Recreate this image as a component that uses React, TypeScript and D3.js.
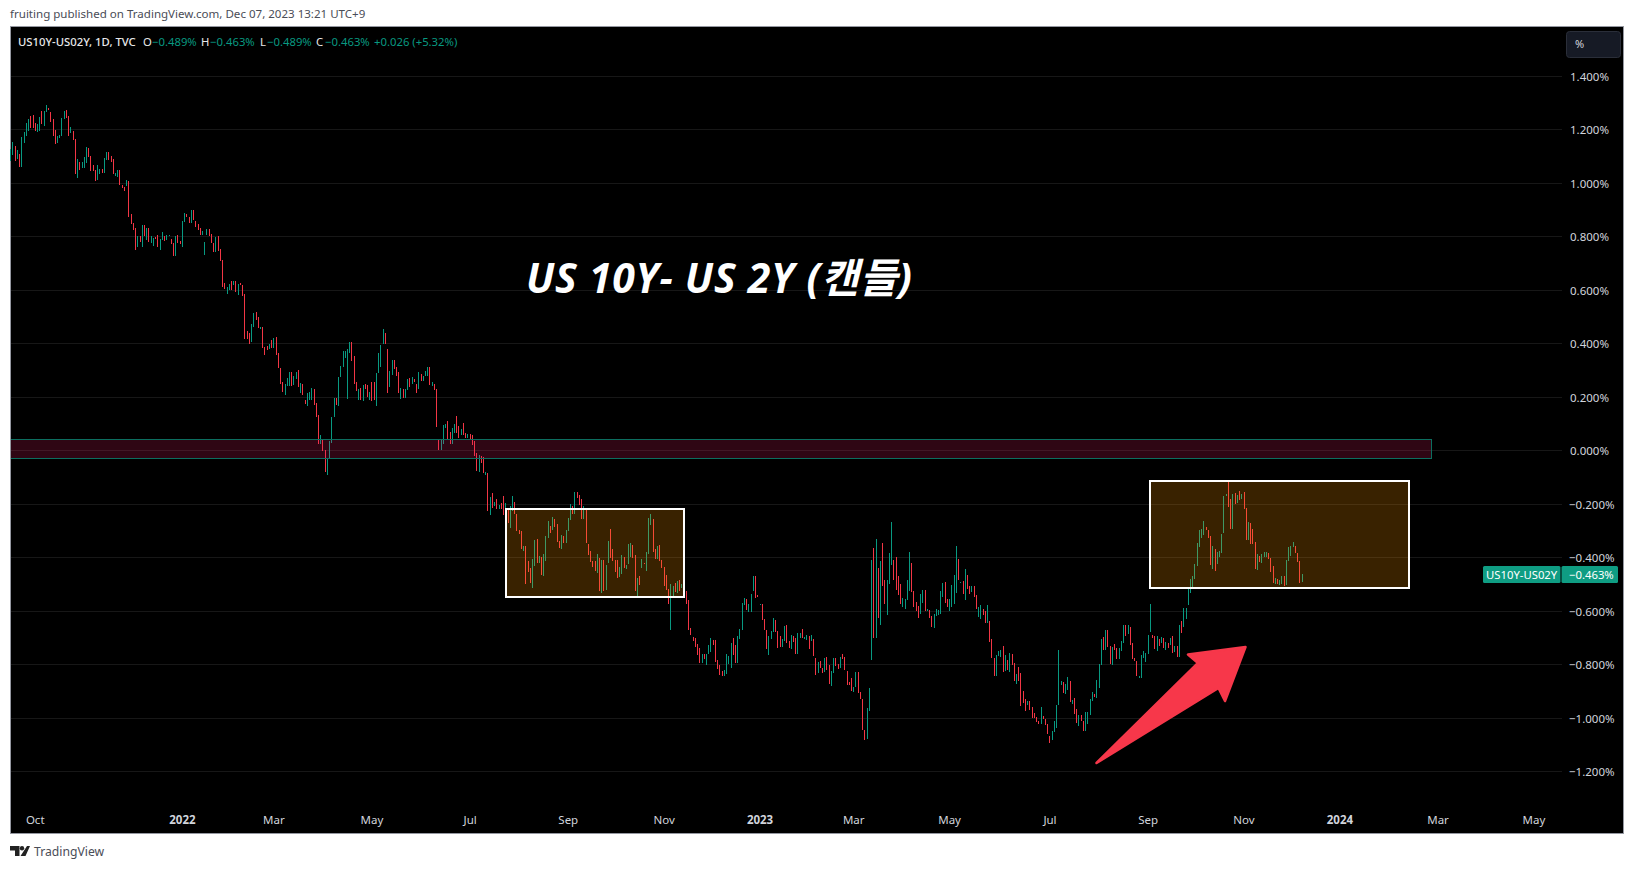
import React from "react";
import * as d3 from "d3";

// Daily bar ranges of the spread, in percent (oldest first).
const highs: number[] = [
1.127,1.154,1.140,1.125,1.110,1.173,1.192,1.227,1.240,1.252,
1.255,1.226,1.222,1.248,1.270,1.270,1.292,1.281,1.266,1.240,
1.199,1.177,1.180,1.244,1.270,1.274,1.252,1.210,1.196,1.165,
1.091,1.080,1.080,1.098,1.136,1.132,1.102,1.068,1.050,1.068,
1.053,1.053,1.095,1.117,1.117,1.102,1.091,1.039,1.050,1.050,
.994,.986,1.012,1.009,.885,.851,.832,.802,.802,.844,
.844,.832,.832,.802,.795,.799,.806,.791,.817,.802,
.806,.806,.791,.776,.802,.806,.784,.858,.888,.885,
.874,.899,.899,.858,.847,.832,.821,.780,.829,.829,
.810,.776,.799,.802,.754,.713,.627,.612,.623,.634,
.634,.634,.623,.627,.619,.586,.447,.440,.473,.516,
.518,.500,.462,.462,.387,.391,.399,.414,.421,.425,
.365,.309,.256,.249,.271,.294,.294,.279,.294,.301,
.253,.249,.189,.215,.219,.234,.230,.178,.133,.058,
.039,.002,-.028,.036,.126,.197,.197,.275,.316,.372,
.372,.380,.406,.406,.354,.256,.230,.234,.245,.249,
.245,.219,.256,.256,.290,.365,.395,.455,.440,.380,
.298,.339,.339,.313,.294,.234,.230,.230,.268,.271,
.275,.268,.249,.294,.286,.279,.298,.313,.313,.256,
.249,.230,.039,.039,.096,.099,.111,.069,.084,.099,
.129,.092,.081,.103,.066,.062,.062,.058,.036,-.009,
-.017,-.020,-.024,-.080,-.084,-.174,-.159,-.192,-.181,-.204,
-.196,-.170,-.196,-.222,-.207,-.170,-.192,-.237,-.297,-.301,
-.357,-.357,-.413,-.439,-.405,-.335,-.331,-.394,-.398,-.387,
-.320,-.263,-.282,-.249,-.256,-.275,-.338,-.316,-.320,-.297,
-.252,-.200,-.207,-.155,-.155,-.166,-.181,-.207,-.215,-.349,
-.376,-.413,-.413,-.387,-.402,-.409,-.409,-.428,-.338,-.293,
-.368,-.409,-.409,-.435,-.391,-.398,-.428,-.349,-.346,-.353,
-.391,-.477,-.469,-.405,-.420,-.379,-.252,-.237,-.256,-.368,
-.357,-.353,-.409,-.435,-.465,-.518,-.499,-.506,-.495,-.488,
-.484,-.499,-.510,-.525,-.559,-.664,-.697,-.701,-.724,-.739,
-.761,-.761,-.761,-.727,-.701,-.709,-.709,-.783,-.802,-.825,
-.821,-.761,-.768,-.720,-.701,-.727,-.694,-.667,-.570,-.551,
-.555,-.574,-.537,-.469,-.469,-.540,-.574,-.574,-.630,-.671,
-.693,-.675,-.626,-.634,-.675,-.693,-.705,-.656,-.652,-.712,
-.690,-.693,-.701,-.682,-.682,-.667,-.697,-.690,-.693,-.690,
-.705,-.776,-.791,-.787,-.813,-.776,-.772,-.802,-.824,-.776,
-.776,-.798,-.772,-.761,-.772,-.824,-.865,-.851,-.884,-.828,
-.828,-.903,-.929,-1.045,-.963,-.888,-.409,-.364,-.331,-.439,
-.413,-.346,-.484,-.484,-.383,-.267,-.409,-.398,-.469,-.499,
-.551,-.555,-.484,-.379,-.420,-.525,-.566,-.581,-.536,-.521,
-.521,-.592,-.596,-.619,-.611,-.592,-.596,-.525,-.495,-.491,
-.555,-.555,-.503,-.465,-.357,-.405,-.491,-.488,-.443,-.465,
-.506,-.506,-.506,-.540,-.585,-.578,-.592,-.600,-.578,-.637,
-.705,-.776,-.764,-.749,-.746,-.731,-.764,-.783,-.757,-.761,
-.794,-.836,-.809,-.832,-.899,-.929,-.937,-.937,-.959,-.981,
-.996,-1.011,-.959,-.993,-1.004,-1.023,-1.068,-1.049,-1.011,-.952,
-.746,-.862,-.865,-.873,-.847,-.862,-.933,-.925,-.966,-.989,
-.989,-1.011,-.978,-.978,-.929,-.903,-.910,-.858,-.798,-.705,
-.697,-.671,-.671,-.731,-.735,-.724,-.738,-.738,-.712,-.652,
-.652,-.652,-.660,-.720,-.776,-.787,-.843,-.765,-.750,-.757,
-.690,-.574,-.690,-.694,-.694,-.705,-.697,-.701,-.716,-.720,
-.701,-.694,-.731,-.731,-.652,-.638,-.589,-.589,-.514,-.478,
-.469,-.422,-.347,-.295,-.291,-.263,-.285,-.297,-.320,-.357,
-.369,-.378,-.374,-.310,-.169,-.160,-.114,-.179,-.160,-.157,
-.166,-.151,-.160,-.156,-.214,-.267,-.270,-.293,-.343,-.387,
-.393,-.387,-.377,-.378,-.381,-.403,-.432,-.477,-.480,-.482,
-.469,-.469,-.409,-.359,-.357,-.342,-.357,-.381,-.413,-.460,
];

const lows: number[] = [
1.083,1.106,1.083,1.091,1.061,1.061,1.151,1.177,1.196,1.207,
1.207,1.196,1.192,1.196,1.222,1.214,1.266,1.274,1.229,1.177,
1.147,1.151,1.169,1.177,1.240,1.244,1.177,1.188,1.162,1.035,
1.020,1.050,1.057,1.057,1.076,1.098,1.046,1.046,1.009,1.012,
1.035,1.039,1.039,1.087,1.087,1.080,1.035,1.027,1.024,.994,
.982,.971,.990,.874,.847,.825,.750,.761,.780,.761,
.802,.788,.780,.776,.765,.791,.761,.750,.788,.784,
.788,.802,.772,.728,.728,.776,.772,.761,.855,.874,
.851,.851,.862,.836,.825,.806,.806,.731,.806,.802,
.776,.742,.742,.746,.708,.612,.604,.586,.601,.601,
.619,.593,.582,.619,.578,.417,.417,.399,.406,.462,
.488,.458,.455,.384,.357,.376,.380,.384,.384,.357,
.309,.249,.219,.208,.241,.241,.241,.245,.268,.238,
.215,.208,.174,.167,.189,.189,.170,.126,.025,.025,
-.002,-.080,-.091,-.028,.028,.126,.170,.167,.275,.313,
.346,.193,.365,.335,.249,.223,.189,.189,.185,.230,
.200,.189,.185,.189,.167,.290,.313,.399,.399,.215,
.238,.283,.305,.279,.215,.193,.197,.197,.227,.238,
.249,.256,.215,.230,.260,.260,.279,.279,.245,.241,
.227,.088,.002,.002,.025,.084,.043,.025,.025,.066,
.066,.047,.058,.058,.047,.047,.039,.021,-.020,-.076,
-.080,-.046,-.084,-.091,-.226,-.241,-.215,-.207,-.219,-.219,
-.219,-.241,-.230,-.271,-.290,-.226,-.237,-.301,-.312,-.368,
-.376,-.499,-.454,-.495,-.514,-.432,-.420,-.420,-.465,-.469,
-.413,-.327,-.308,-.297,-.286,-.342,-.364,-.368,-.346,-.346,
-.301,-.260,-.237,-.237,-.177,-.204,-.256,-.256,-.346,-.391,
-.417,-.435,-.450,-.458,-.525,-.533,-.525,-.521,-.420,-.402,
-.413,-.454,-.477,-.473,-.462,-.439,-.443,-.424,-.398,-.402,
-.525,-.548,-.503,-.439,-.424,-.450,-.387,-.278,-.379,-.405,
-.405,-.413,-.439,-.506,-.521,-.574,-.671,-.548,-.529,-.533,
-.525,-.514,-.540,-.574,-.671,-.690,-.712,-.735,-.765,-.795,
-.795,-.780,-.802,-.761,-.754,-.727,-.791,-.817,-.839,-.843,
-.843,-.836,-.798,-.813,-.765,-.795,-.795,-.705,-.671,-.578,
-.596,-.604,-.604,-.525,-.551,-.548,-.578,-.634,-.671,-.742,
-.764,-.705,-.678,-.678,-.738,-.735,-.735,-.712,-.720,-.738,
-.742,-.716,-.761,-.761,-.701,-.701,-.705,-.708,-.742,-.712,
-.768,-.839,-.832,-.813,-.832,-.828,-.821,-.873,-.880,-.832,
-.806,-.817,-.813,-.780,-.821,-.877,-.877,-.899,-.903,-.884,
-.907,-.929,-1.045,-1.083,-1.079,-.974,-.783,-.701,-.701,-.626,
-.652,-.506,-.574,-.615,-.499,-.428,-.484,-.521,-.540,-.574,
-.585,-.592,-.559,-.525,-.529,-.585,-.600,-.626,-.611,-.570,
-.600,-.600,-.626,-.660,-.664,-.619,-.615,-.611,-.548,-.570,
-.585,-.600,-.585,-.574,-.533,-.484,-.495,-.536,-.559,-.518,
-.536,-.529,-.548,-.592,-.622,-.630,-.615,-.645,-.645,-.716,
-.776,-.843,-.843,-.768,-.772,-.828,-.824,-.821,-.828,-.802,
-.862,-.873,-.862,-.955,-.944,-.974,-.952,-.970,-1.000,-1.000,
-1.015,-1.023,-1.023,-1.004,-1.026,-1.060,-1.094,-1.083,-1.053,-1.038,
-.952,-.877,-.907,-.910,-.895,-.940,-.948,-.985,-1.019,-1.030,
-1.011,-1.049,-1.049,-1.023,-.989,-.937,-.922,-.925,-.888,-.800,
-.746,-.746,-.735,-.798,-.802,-.746,-.780,-.780,-.750,-.720,
-.694,-.686,-.727,-.780,-.787,-.843,-.851,-.851,-.776,-.791,
-.761,-.679,-.701,-.742,-.750,-.731,-.720,-.738,-.746,-.738,
-.727,-.757,-.753,-.772,-.772,-.682,-.660,-.630,-.578,-.532,
-.509,-.479,-.432,-.362,-.326,-.315,-.297,-.325,-.428,-.444,
-.449,-.424,-.397,-.382,-.307,-.170,-.210,-.291,-.291,-.200,
-.197,-.185,-.182,-.217,-.334,-.334,-.349,-.349,-.443,-.447,
-.417,-.419,-.397,-.399,-.404,-.455,-.494,-.499,-.499,-.502,
-.499,-.507,-.503,-.414,-.394,-.362,-.381,-.417,-.493,-.492,
];

// G = closed up, R = closed down
const directions: string =
  "GGRGRGGGGR" + "RRGGRGGRRR" + "RGGGGRRGRR" + "GRGGGRRRRG" + "GRGGRRRGGR" +
  "RRGRRRRGRG" + "RGRGGRRGGR" + "GGRRGRRGGR" + "RGRRRRGGGR" + "RRGRRRRGGR" +
  "GRGRRRRRGG" + "RRGRRRGRGR" + "RRRGGGRGGR" + "GRRGGGRRRG" + "RRGGGGRGGG" +
  "GGGRRRGRGR" + "RGRRGGGGRR" + "GGRRRGRGGR" + "GRRGRGGGRG" + "RRRGGGRRGG" +
  "RRGRRGRRRR" + "GRRGRGRGRG" + "RRGRGGRRRR" + "GRRRGGRGRG" + "GGRGRRRGRG" +
  "GGRGRRRGRR" + "RRRGRGRGGR" + "RRRGGRGGGR" + "RGRGRGGGRR" + "GRRRRRGGRG" +
  "RGRRRRRRRR" + "GRGGGRRRRR" + "GGGGRRGGGG" + "RGGGRRGRRR" + "GGGRRRGGRR" +
  "GRRGGRGGRG" + "RRGRRGRRGG" + "RRGRRRRRGG" + "RRRRGGGRGR" + "GRRGGGRRRR" +
  "GGGGRRRRGG" + "RGRRGGGGGR" + "RGGGGRGRGR" + "RGRRGGRRGR" + "RRGGGRGRGR" +
  "RGRRRRGRRR" + "RRGRRRRGGG" + "GGRGGRGRRG" + "RRGGGGRGGG" + "RGRRGRRGGG" +
  "RGRRRRGGGG" + "GGRRGRGRGR" + "GRGRGRGGGG" + "GGGGGGRRRG" + "RGGGGGRRGR" +
  "GRGRRGRRRG" + "RGGGRRRGRG" + "GRGGGGRRRG";

const priceTicks: number[] = [1.4, 1.2, 1.0, 0.8, 0.6, 0.4, 0.2, 0, -0.2, -0.4, -0.6, -0.8, -1.0, -1.2];
const timeLabels: string[] = ["Oct","2022","Mar","May","Jul","Sep","Nov","2023","Mar","May","Jul","Sep","Nov","2024","Mar","May"];
const timeBars: number[] = [11,77,118,162,206,250,293,336,378,421,466,510,553,596,640,683];

// drawn zones: [first bar, last bar, top %, bottom %]
const zoneBand: number[] = [-1, 637, 0.044, -0.029];
const zoneLeft: number[] = [222, 302, -0.218, -0.549];
const zoneRight: number[] = [511, 627, -0.114, -0.515];

const UP = "#089981";
const DOWN = "#f23645";
const FONT = "'Noto Sans','Open Sans',sans-serif";
const AXIS = "#d1d4dc";

const W = 1634, H = 869;
const CL = 10, CR = 1623, CT = 27, CB = 833, PR = 1562;

const x = d3.scaleLinear().domain([0, 579]).range([10.7, 1302]);
const y = d3.scaleLinear().domain([-1.2, 1.4]).range([771.5, 76.5]);
const gy = (v: number) => Math.floor(y(v)) + 0.5;
const fmt = (v: number) => d3.format(".3f")(Math.abs(v));
const priceLabel = (v: number) => (v < 0 ? "\u2212" : "") + fmt(v) + "%";

function Zone({ z }: { z: number[] }) {
  const x0 = Math.round(x(z[0])), x1 = Math.round(x(z[1]));
  const y0 = Math.round(y(z[2])), y1 = Math.round(y(z[3]));
  return <rect x={x0} y={y0} width={x1 - x0} height={y1 - y0} fill="#ff9800" fillOpacity={0.225} stroke="#fff" strokeWidth={2} />;
}

export default function App() {
  const bx0 = Math.round(x(zoneBand[1]));
  const by0 = Math.round(y(zoneBand[2])) + 0.5, by1 = Math.round(y(zoneBand[3])) + 0.5;
  return (
    <svg width={W} height={H} viewBox={`0 0 ${W} ${H}`} style={{ position: "absolute", left: 0, top: 0, background: "#fff", fontFamily: FONT }}>
      <text x={10} y={18} fontSize={11.55} fill="#4a4d57">fruiting published on TradingView.com, Dec 07, 2023 13:21 UTC+9</text>
      <rect x={CL + 0.5} y={CT - 0.5} width={CR - CL} height={CB - CT + 1} fill="#000" stroke="#9598a1" strokeWidth={1} />

      <g shapeRendering="crispEdges">
        {priceTicks.map((t) => (
          <line key={t} x1={CL + 1} x2={PR} y1={gy(t)} y2={gy(t)} stroke="#171717" strokeWidth={1} />
        ))}
        {highs.map((h, i) => (
          <rect key={i} x={Math.round(x(i) - 0.5)} width={1} y={y(h)} height={Math.max(1, y(lows[i]) - y(h))}
            fill={directions[i] === "G" ? UP : DOWN} />
        ))}
      </g>

      <g shapeRendering="crispEdges">
        <rect x={CL + 1} y={by0} width={bx0 - CL - 1} height={by1 - by0} fill="#e91e63" fillOpacity={0.2} />
        <path d={`M${CL + 1} ${by0} H${bx0} V${by1} H${CL + 1}`} fill="none" stroke="#0c6e5f" strokeWidth={1} />
      </g>
      <Zone z={zoneLeft} />
      <Zone z={zoneRight} />

      <path d="M1096.5 763 L1198 663 L1188 654.5 L1245.5 647 L1225 701 L1218.5 688 Z" fill="#f7374a" stroke="#f7374a" strokeWidth={2.5} strokeLinejoin="round" />

      <text x={526} y={293} fontSize={41} letterSpacing={0.75} fontWeight={700} fontStyle="italic" fill="#fff" fontFamily="'Open Sans','Noto Sans CJK KR',sans-serif">US 10Y- US 2Y (캔들)</text>

      <g fontSize={11.3}>
        <text x={18} y={46} fill="#e8e8ea" fontWeight={500}>US10Y-US02Y, 1D, TVC</text>
        <text x={143} y={46} fill="#e8e8ea">O</text>
        <text x={152} y={46} fill={UP}>−0.489%</text>
        <text x={201} y={46} fill="#e8e8ea">H</text>
        <text x={210} y={46} fill={UP}>−0.463%</text>
        <text x={260} y={46} fill="#e8e8ea">L</text>
        <text x={267} y={46} fill={UP}>−0.489%</text>
        <text x={316} y={46} fill="#e8e8ea">C</text>
        <text x={325} y={46} fill={UP}>−0.463%</text>
        <text x={374} y={46} fill={UP}>+0.026 (+5.32%)</text>
      </g>

      <rect x={1566.5} y={31.5} width={54} height={26} rx={3} fill="#161a25" stroke="#2a2e39" />
      <text x={1575} y={48} fontSize={11} fill={AXIS}>%</text>

      <g fontSize={11.5} fill={AXIS}>
        {priceTicks.map((t) => (
          <text key={t} x={t < 0 ? 1569 : 1570} y={gy(t) + 4}>{priceLabel(t)}</text>
        ))}
        {timeLabels.map((l, i) => (
          <text key={i} x={x(timeBars[i])} y={823.5} textAnchor="middle" fontWeight={/^\d/.test(l) ? 700 : 400}>{l}</text>
        ))}
      </g>

      <rect x={1483} y={566} width={77.5} height={17} rx={1.5} fill="#0f9d83" />
      <rect x={1561.5} y={566} width={56.5} height={17} rx={1.5} fill="#0f9d83" />
      <text x={1486} y={578.5} fontSize={11.3} fill="#fff">US10Y-US02Y</text>
      <text x={1569} y={578.5} fontSize={11.3} fill="#fff">{priceLabel(-0.463)}</text>

      <path d="M10 846 H19.5 V856 H15 V850.5 H10 Z M27 846 H30 L25.5 856 H20.5 Z" fill="#222" />
      <circle cx={22} cy={848.2} r={2.2} fill="#222" />
      <text x={34} y={856} fontSize={12.2} fill="#4a4d57">TradingView</text>
    </svg>
  );
}
